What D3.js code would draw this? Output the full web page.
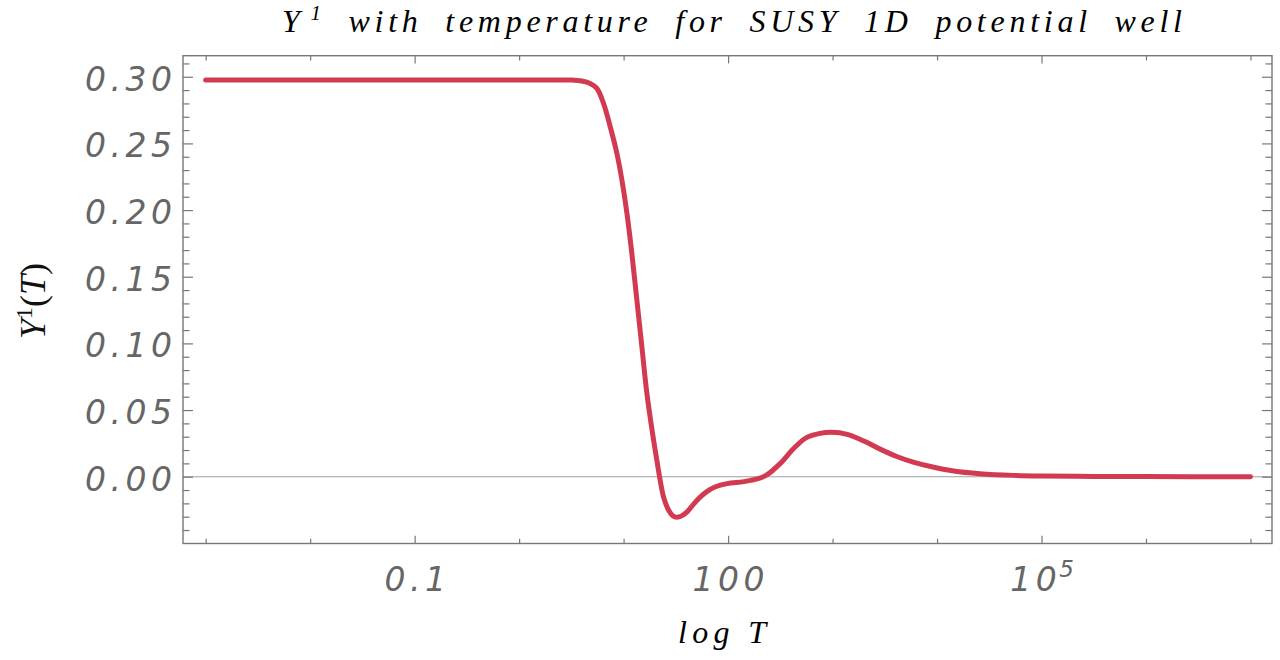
<!DOCTYPE html>
<html><head><meta charset="utf-8">
<script src="https://cdn.jsdelivr.net/npm/d3@7"></script>
<style>
body{margin:0;background:#fff}
svg text{font-kerning:normal}
</style>
</head><body>
<svg id="chart" width="1280" height="660"></svg>
<script>
// ---------- data ----------
const log10T = [-3.0, -2.0, -1.0, 0.0, 0.30, 0.50, 0.60, 0.68, 0.744, 0.808, 0.872, 0.936, 0.984, 1.032, 1.079,
  1.127, 1.175, 1.223, 1.28, 1.318, 1.344, 1.382, 1.43, 1.47, 1.51, 1.56, 1.61, 1.67, 1.73, 1.80, 1.88,
  1.99, 2.15, 2.28, 2.37, 2.50, 2.63, 2.75, 2.88, 2.99, 3.14, 3.30, 3.46, 3.62, 3.78, 3.97, 4.16,
  4.41, 4.73, 5.0, 5.5, 6.0, 7.0];
const Y1 = [0.2975, 0.2975, 0.2975, 0.2975, 0.2975, 0.2975, 0.2968, 0.2950, 0.2913, 0.2800, 0.2625, 0.2425, 0.2225, 0.1975, 0.1675,
  0.1325, 0.0975, 0.0625, 0.0310, 0.0125, 0.0000, -0.0150, -0.0250, -0.0293, -0.0305, -0.0292, -0.0262, -0.0205, -0.0155, -0.0110, -0.0075,
  -0.0052, -0.0037, -0.0017, 0.0013, 0.0100, 0.0213, 0.0293, 0.0325, 0.0333, 0.0318, 0.0268, 0.0205, 0.0150, 0.0108, 0.0071, 0.0043,
  0.0023, 0.0010, 0.0005, 0.0002, 0.0001, 0.0000];

const xDecadeExp = [-3, -2, -1, 0, 1, 2, 3, 4, 5, 6, 7];
const xLabelExp = [-1, 2, 5];
const xTickLabels = ["0.1", "100", "10^5"];
const yMajorTicks = [0.00, 0.05, 0.10, 0.15, 0.20, 0.25, 0.30];
const yTickLabels = ["0.00", "0.05", "0.10", "0.15", "0.20", "0.25", "0.30"];
const yMinorTicks = [-0.04, -0.03, -0.02, -0.01, 0.01, 0.02, 0.03, 0.04, 0.06, 0.07, 0.08, 0.09,
  0.11, 0.12, 0.13, 0.14, 0.16, 0.17, 0.18, 0.19, 0.21, 0.22, 0.23, 0.24, 0.26, 0.27, 0.28, 0.29, 0.31];
const titleWords = ["with", "temperature", "for", "SUSY", "1D", "potential", "well"];
const xTitle = "log T";

// ---------- layout ----------
const L = 183, R = 1272, T = 55.7, B = 543.5;
const svg = d3.select("#chart");

const x = d3.scaleLog().domain([Math.pow(10, -3.217), Math.pow(10, 7.206)]).range([L, R]);
const y = d3.scaleLinear().domain([-0.0501, 0.3158]).range([B, T]);

const frameCol = "#777", labelCol = "#666";
const series = log10T.map((e, i) => ({ T: Math.pow(10, e), v: Y1[i] }));

// zero line
svg.append("line").attr("x1", L).attr("x2", R).attr("y1", y(0)).attr("y2", y(0))
  .attr("stroke", "#a0a0a0").attr("stroke-width", 1.1);

// axes (ticks pointing inward)
function styleAxis(g) {
  g.select(".domain").remove();
  g.selectAll(".tick line").attr("stroke", frameCol).attr("stroke-width", 1.2);
}
const xMinorVals = xDecadeExp.filter(e => !xLabelExp.includes(e)).map(e => Math.pow(10, e));
const xMajorVals = xLabelExp.map(e => Math.pow(10, e));

svg.append("g").attr("transform", `translate(0,${B})`)
  .call(d3.axisBottom(x).tickValues(xMinorVals).tickSizeInner(-4.8).tickSizeOuter(0).tickFormat(""))
  .call(styleAxis);
const xAxisMajor = svg.append("g").attr("transform", `translate(0,${B})`)
  .call(d3.axisBottom(x).tickValues(xMajorVals).tickSizeInner(-7.7).tickSizeOuter(0)
    .tickFormat((d, i) => xTickLabels[i]))
  .call(styleAxis);
svg.append("g").attr("transform", `translate(0,${T})`)
  .call(d3.axisTop(x).tickValues(xMinorVals).tickSizeInner(-4.8).tickSizeOuter(0).tickFormat(""))
  .call(styleAxis);
svg.append("g").attr("transform", `translate(0,${T})`)
  .call(d3.axisTop(x).tickValues(xMajorVals).tickSizeInner(-7.7).tickSizeOuter(0).tickFormat(""))
  .call(styleAxis);

svg.append("g").attr("transform", `translate(${L},0)`)
  .call(d3.axisLeft(y).tickValues(yMinorTicks).tickSizeInner(-6.5).tickSizeOuter(0).tickFormat(""))
  .call(styleAxis);
const yAxisMajor = svg.append("g").attr("transform", `translate(${L},0)`)
  .call(d3.axisLeft(y).tickValues(yMajorTicks).tickSizeInner(-10).tickSizeOuter(0)
    .tickFormat((d, i) => yTickLabels[i]))
  .call(styleAxis);
svg.append("g").attr("transform", `translate(${R},0)`)
  .call(d3.axisRight(y).tickValues(yMinorTicks).tickSizeInner(-6.5).tickSizeOuter(0).tickFormat(""))
  .call(styleAxis);
svg.append("g").attr("transform", `translate(${R},0)`)
  .call(d3.axisRight(y).tickValues(yMajorTicks).tickSizeInner(-10).tickSizeOuter(0).tickFormat(""))
  .call(styleAxis);

// tick label styling
const LS = 4.5, FS = 33;
yAxisMajor.selectAll(".tick text")
  .attr("x", -11 + LS).attr("dy", null).attr("y", 2)
  .attr("dominant-baseline", "central")
  .attr("text-anchor", "end")
  .attr("font-family", "DejaVu Sans").attr("font-style", "oblique").attr("font-size", FS)
  .attr("letter-spacing", LS).attr("fill", labelCol);

xAxisMajor.selectAll(".tick text").each(function (d, i) {
  const t = d3.select(this);
  const lab = xTickLabels[i];
  t.text(null).attr("dy", null).attr("y", 591 - B).attr("x", LS / 2)
    .attr("text-anchor", "middle")
    .attr("font-family", "DejaVu Sans").attr("font-style", "oblique").attr("font-size", FS)
    .attr("letter-spacing", LS).attr("fill", labelCol);
  if (lab.includes("^")) {
    const [base, ex] = lab.split("^");
    t.append("tspan").text(base);
    t.append("tspan").text(ex).attr("font-size", 23).attr("dy", -14).attr("dx", -2);
  } else {
    t.text(lab);
  }
});

// frame
svg.append("rect").attr("x", L).attr("y", T).attr("width", R - L).attr("height", B - T)
  .attr("fill", "none").attr("stroke", frameCol).attr("stroke-width", 1.4);

// curve
const line = d3.line().x(d => x(d.T)).y(d => y(d.v)).curve(d3.curveCatmullRom.alpha(0.5));
svg.append("path").datum(series).attr("d", line)
  .attr("fill", "none").attr("stroke", "#d13a51").attr("stroke-width", 5)
  .attr("stroke-linecap", "round").attr("stroke-linejoin", "round");

// title
const title = svg.append("text").attr("x", 282).attr("y", 31.5)
  .attr("font-family", "Liberation Serif").attr("font-style", "italic").attr("font-size", 32)
  .attr("word-spacing", 10)
  .attr("fill", "#000").attr("textLength", 900).attr("lengthAdjust", "spacing");
title.append("tspan").text("Y");
title.append("tspan").text("1").attr("font-size", 21).attr("dy", -12).attr("dx", 6);
title.append("tspan").text(" " + titleWords.join(" ")).attr("dy", 12);

// x-axis title
svg.append("text").attr("x", 678).attr("y", 643)
  .attr("font-family", "Liberation Serif").attr("font-style", "italic").attr("font-size", 32)
  .attr("fill", "#000").attr("textLength", 88).attr("lengthAdjust", "spacing")
  .text(xTitle);

// y-axis title
const yt = svg.append("text").attr("transform", "translate(45,301) rotate(-90)")
  .attr("text-anchor", "middle")
  .attr("font-family", "Liberation Serif").attr("font-size", 36).attr("fill", "#111");
yt.append("tspan").text("Y").attr("font-style", "italic");
yt.append("tspan").text("1").attr("font-size", 24).attr("dy", -13);
yt.append("tspan").text("(").attr("dy", 13);
yt.append("tspan").text("T").attr("font-style", "italic");
yt.append("tspan").text(")");
</script>
</body></html>
